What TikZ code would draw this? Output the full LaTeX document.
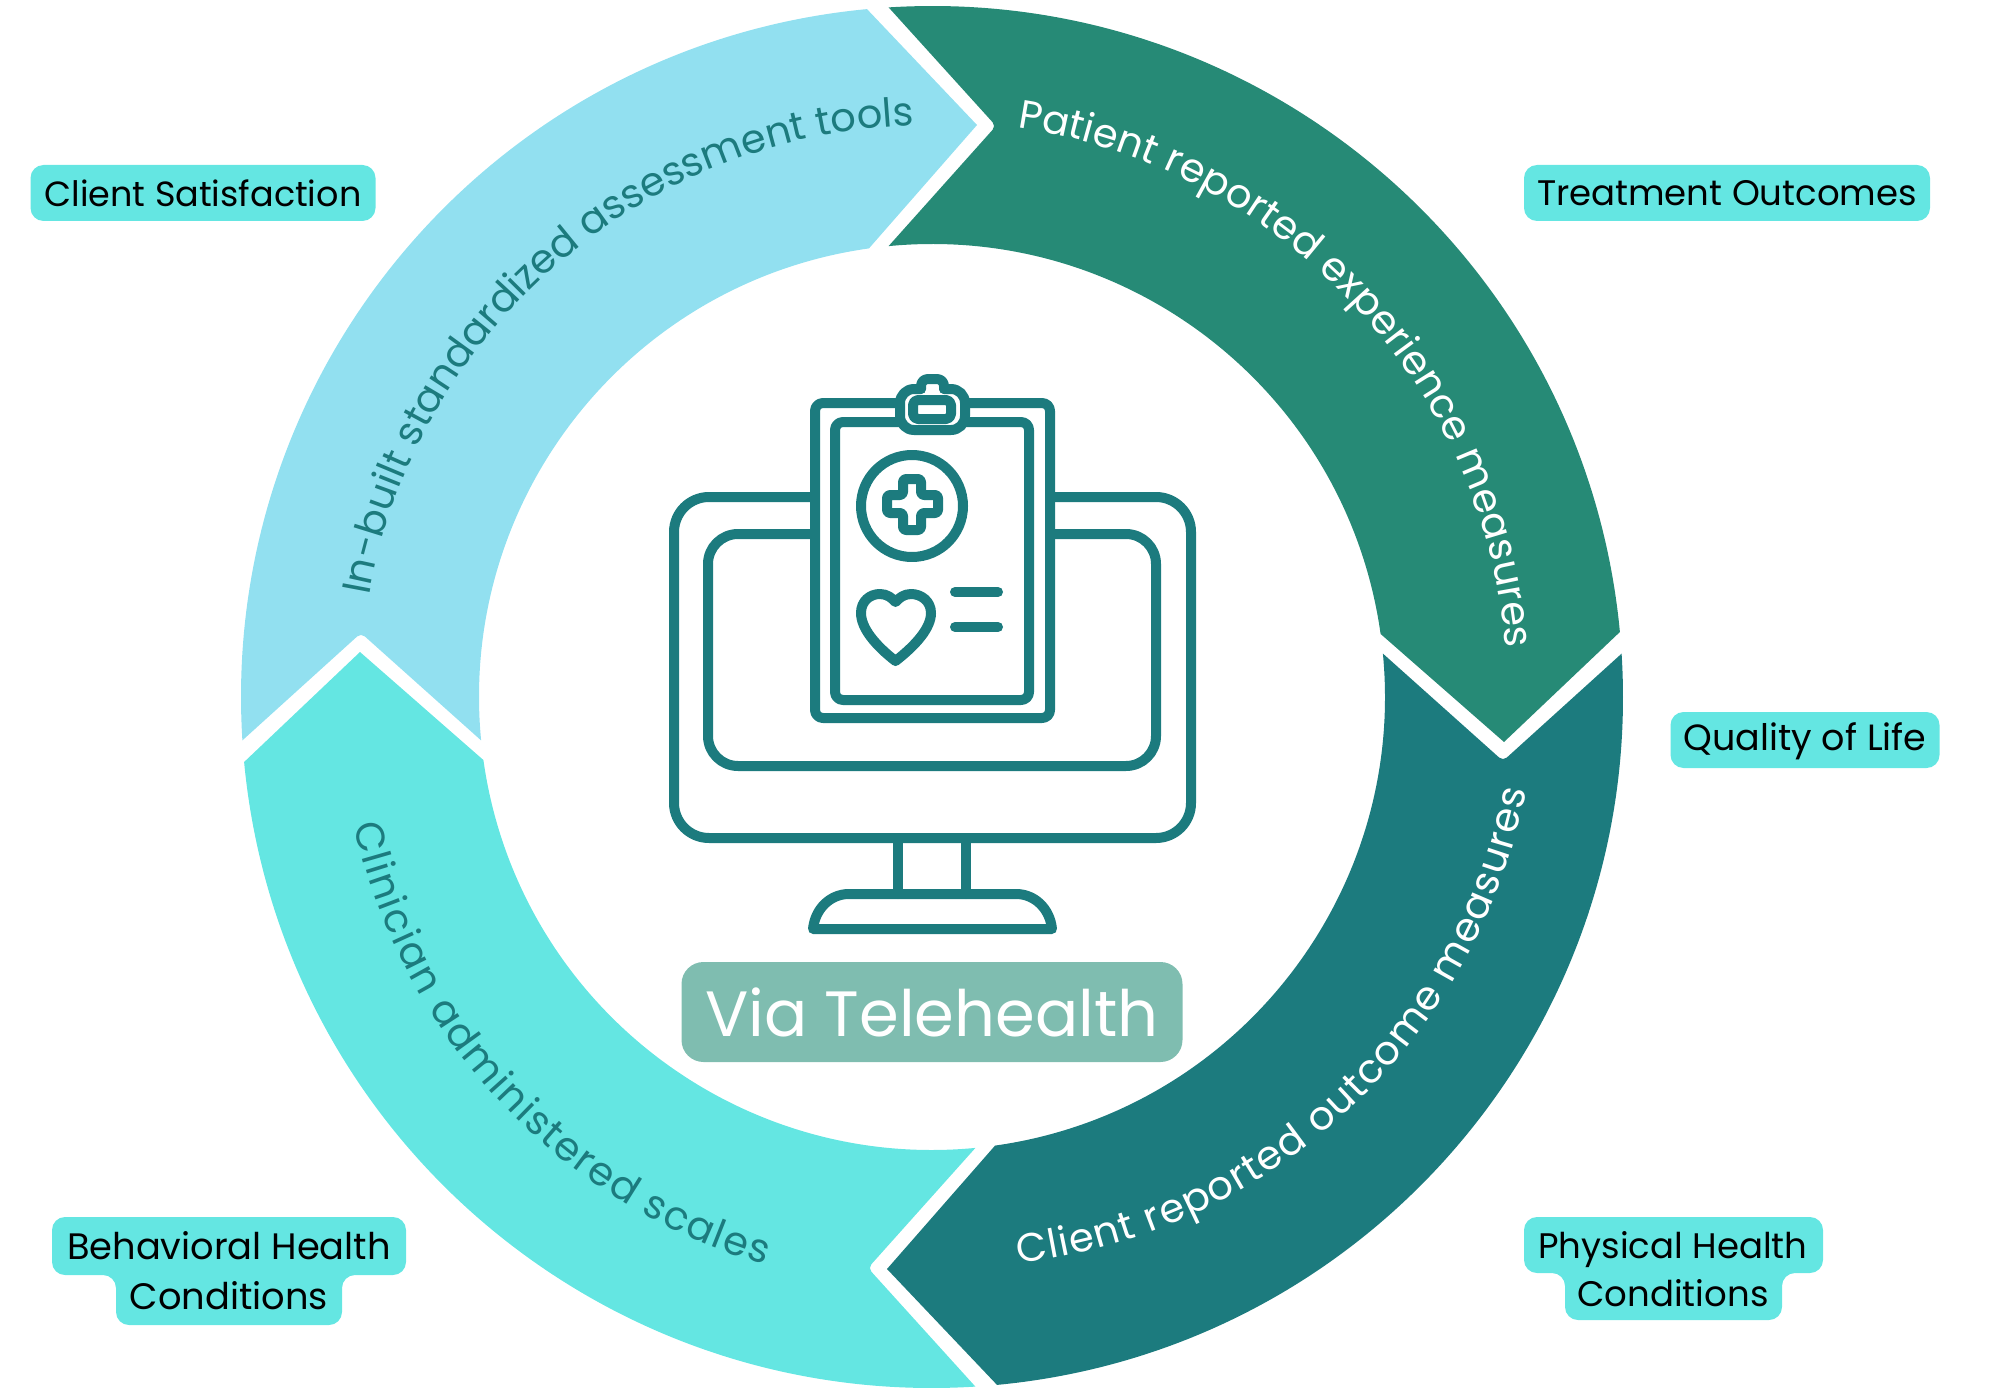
\documentclass[tikz,border=0pt]{standalone}
\usepackage{fontspec}
\setmainfont{Poppins}
\usetikzlibrary{calc,decorations.text,backgrounds}
\definecolor{ringGreen}{RGB}{38, 138, 118}
\definecolor{ringTeal}{RGB}{28, 123, 126}
\definecolor{ringCyan}{RGB}{100, 230, 226}
\definecolor{ringBlue}{RGB}{146, 224, 240}
\definecolor{viaBox}{RGB}{127, 189, 176}
\newcommand{\bandsize}{\fontsize{40}{44}\selectfont}
\tikzset{
  tagbox/.style={fill=ringCyan, rounded corners=13pt, minimum height=56pt, inner xsep=0pt, inner ysep=0pt, text=black, font=\fontsize{#1}{36}\selectfont},
  tagtext/.style={text=black, inner sep=0pt, font=\fontsize{#1}{36}\selectfont},
  iconline/.style={draw=ringTeal, line width=10pt, line join=round, line cap=round},
  bandlabel/.style={decorate, decoration={text along path, text={#1}, text align={fit to path}}}
}
\begin{document}
\begin{tikzpicture}[x=1pt,y=-1pt]
  \useasboundingbox (0,0) rectangle (2000,1388);

  \begin{scope}[shift={(932,697)},y=1pt]
    \foreach \turn/\col in {0/ringGreen,-90/ringTeal,-180/ringCyan,-270/ringBlue}
      \fill[\col,rotate=\turn] (93.6:691) arc[start angle=93.6,end angle=5.4,radius=691]
        -- (572,-45) -- (8:453) arc[start angle=8,end angle=95.5,radius=453]
        [rounded corners=5pt] -- (64,571) [sharp corners] -- cycle;
    \path[bandlabel={|\bandsize\color{white}|Patient reported experience measures}]
      (81.5:576) arc[start angle=81.5,end angle=4.9,radius=576];
    \path[bandlabel={|\bandsize\color{white}|Client reported outcome measures}]
      ($(15,19)+(-83:590)$) arc[start angle=-83,end angle=-11,radius=590];
    \path[bandlabel={|\bandsize\color{ringTeal}|Clinician administered scales}]
      (192.5:592) arc[start angle=192.5,end angle=253.6,radius=592];
    \path[bandlabel={|\bandsize\color{ringTeal}|In-built standardized assessment tools}]
      (169.8:572) arc[start angle=169.8,end angle=92,radius=572];
  \end{scope}

  \draw[iconline,rounded corners=35pt] (674,497) rectangle (1191,838);
  \draw[iconline,rounded corners=30pt] (708,534) rectangle (1156,766);
  \draw[iconline] (898,838) -- (898,894) (966,838) -- (966,894);
  \draw[iconline] (813,929) .. controls (815,909) and (830,894) .. (849,894) -- (1016,894)
    .. controls (1035,894) and (1050,909) .. (1052,929) -- cycle;
  \draw[iconline,fill=white,rounded corners=8pt] (815,403) rectangle (1050,718);
  \draw[iconline,rounded corners=8pt] (835,422) rectangle (1029,700);
  \draw[iconline,fill=white,rounded corners=14pt] (921,389) -- (900,389) -- (900,430) -- (965,430) -- (965,389) -- (944,389);
  \draw[iconline,rounded corners=7pt] (921,389) -- (921,379) -- (944,379) -- (944,389);
  \draw[iconline,rounded corners=5pt] (913,400) rectangle (951,419);
  \draw[iconline] (912,506) circle[radius=51];
  \draw[iconline,rounded corners=3pt] (903,479) -- (921,479) -- (921,495) -- (938,495) -- (938,513)
    -- (921,513) -- (921,530) -- (903,530) -- (903,513) -- (887,513) -- (887,495) -- (903,495) -- cycle;
  \draw[iconline] (895.5,661) .. controls (875,645) and (861,628) .. (861,613)
    .. controls (861,601) and (870,594) .. (880,594) .. controls (887,594) and (892,598) .. (895.5,602)
    .. controls (899,598) and (904,594) .. (911,594) .. controls (921,594) and (931,601) .. (931,613)
    .. controls (931,628) and (916,645) .. (895.5,661) -- cycle;
  \draw[iconline] (955,592) -- (998,592) (955,627) -- (998,627);

  \node[fill=viaBox, rounded corners=22pt, minimum width=501pt, minimum height=100pt, inner sep=0pt, text=white, font=\fontsize{64}{70}\selectfont] (via) at (932,1012) {Via Telehealth};

  \node[tagbox=35, minimum width=345pt] (satisfaction) at (203,193) {Client Satisfaction};
  \node[tagbox=35.5, minimum width=406pt] (treatment) at (1727,193) {Treatment Outcomes};
  \node[tagbox=36.5, minimum width=269pt, text height=28pt, text depth=8pt] (quality) at (1805,740) {Quality of Life};

  \node[tagtext=36.8] (behaviorTop) at (229,1246) {Behavioral Health};
  \node[tagtext=36.8] (behaviorLow) at (229,1296) {Conditions};
  \node[tagtext=35.5] (physicalTop) at (1673,1250) {Physical Health};
  \node[tagtext=35.5] (physicalLow) at (1673,1293) {Conditions};
  \begin{scope}[on background layer]
    \fill[ringCyan,rounded corners=13pt] (52,1217) -- (406,1217) -- (406,1275) -- (342,1275) -- (342,1325)
      -- (116,1325) -- (116,1275) -- (52,1275) -- cycle;
    \fill[ringCyan,rounded corners=13pt] (1524,1217) -- (1823,1217) -- (1823,1273) -- (1782,1273) -- (1782,1320)
      -- (1565,1320) -- (1565,1273) -- (1524,1273) -- cycle;
  \end{scope}
\end{tikzpicture}
\end{document}
